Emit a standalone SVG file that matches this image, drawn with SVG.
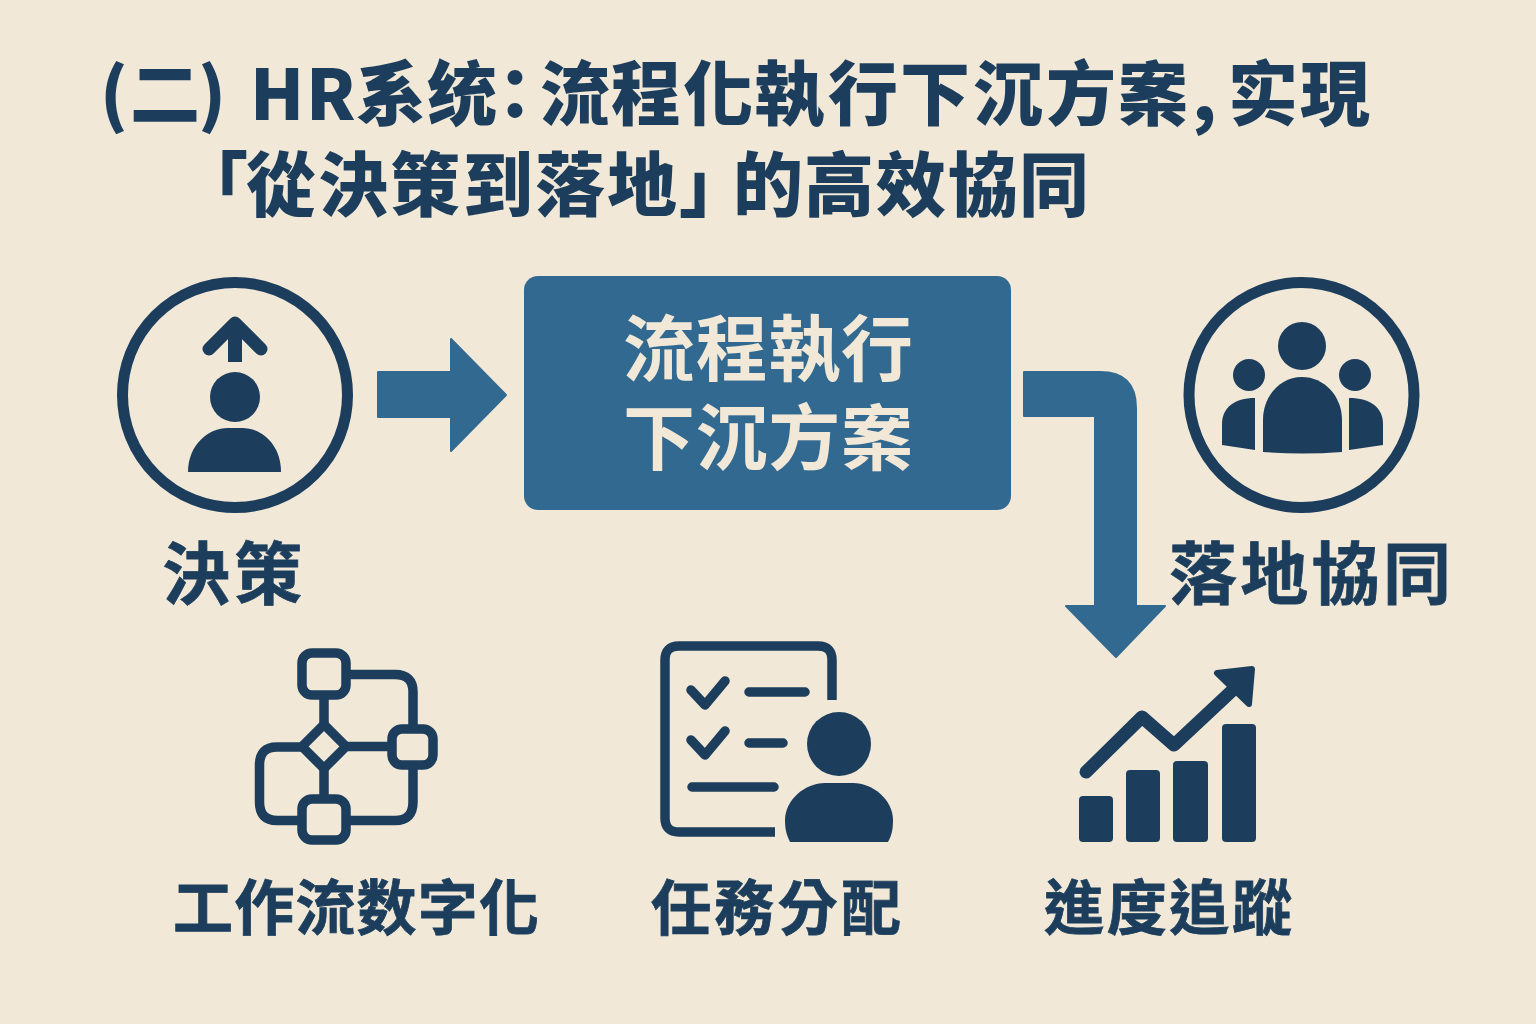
<svg xmlns="http://www.w3.org/2000/svg" width="1536" height="1024" viewBox="0 0 1536 1024">
<style>
text{font-family:"Noto Sans CJK TC","Noto Sans CJK SC","Noto Sans",sans-serif;font-weight:700;fill:#1c3e5c;stroke:#1c3e5c;stroke-width:.8}
.t{font-size:70px;font-weight:900;stroke-width:0}
.l{font-size:68px}
.s{font-size:60px}
.b{font-size:72px;fill:#f1e8d7;stroke:none;font-weight:700}
.ln{fill:none;stroke:#1c3e5c;stroke-width:9.5;stroke-linejoin:round;stroke-linecap:round}
.f{fill:#1c3e5c}
.a{fill:#326990;stroke:#326990;stroke-width:2;stroke-linejoin:round}
.c{fill:none;stroke:#1c3e5c;stroke-width:11}
</style>
<rect width="1536" height="1024" fill="#f1e8d8"/>
<g id="title">
<text class="t" y="120" x="100 130 198 220 250 306 356 427 480 540 611 683 754 828 900 973 1046 1118 1192 1228 1300">(二) HR系统：流程化執行下沉方案,实現</text>
<text class="t" y="211" x="178 246 318 390 463 535 607 679 733 804 876 948 1019">「從決策到落地」的高效協同</text>
</g>
<g id="connectors">
<path class="a" d="M378 372H451V339L506 395L451 451V417H378Z"/>
<path class="a" d="M1024 372H1100Q1136 372 1136 408V606H1165L1116 657L1066 606H1095V416H1024Z"/>
</g>
<g id="decision">
<circle cx="235" cy="395" r="112.5" class="c"/>
<path class="ln" d="M209 349L235 323L261 349" style="stroke-width:13"/>
<rect class="f" x="228" y="330" width="14" height="32"/>
<circle class="f" cx="235" cy="397" r="25"/>
<path class="f" d="M188 472C188 445 208 428 228 428H242C262 428 281 445 281 472Z"/>
<text class="l" x="232" y="599" text-anchor="middle" textLength="140">決策</text>
</g>
<g id="process">
<rect x="524" y="276" width="487" height="234" rx="14" fill="#326990"/>
<text class="b" x="768" y="375" text-anchor="middle" textLength="290">流程執行</text>
<text class="b" x="768" y="464" text-anchor="middle" textLength="290">下沉方案</text>
</g>
<g id="landing">
<circle cx="1301.5" cy="395" r="112.5" class="c"/>
<circle class="f" cx="1302" cy="346" r="24"/>
<circle class="f" cx="1249" cy="375" r="16"/>
<circle class="f" cx="1355" cy="375" r="16"/>
<path class="f" d="M1263 452V420C1263 396 1280 377 1302 377C1324 377 1342 396 1342 420V452Q1302 455 1263 452Z"/>
<path class="f" d="M1222 445V424C1222 408 1234 398 1255 398V450Z"/>
<path class="f" d="M1383 445V424C1383 408 1371 398 1349 398V450Z"/>
<text class="l" x="1310" y="599" text-anchor="middle" textLength="282">落地協同</text>
</g>
<g id="workflow">
<rect x="302" y="653" width="44" height="42" rx="10" class="ln"/>
<rect x="302" y="799" width="44" height="41" rx="10" class="ln"/>
<rect x="392" y="729" width="41" height="36" rx="10" class="ln"/>
<path class="ln" d="M324 724.500L346 746.500L324 768.500L302 746.500Z"/>
<path class="ln" d="M324 695V724M324 769V799M346 746.500H392M346 674.500H395Q413 674.500 413 692V729M413 765V802Q413 820.500 395 820.500H346M302 747H277Q259.500 747 259.500 765V802Q259.500 820.500 277 820.500H302" style="stroke-linecap:butt"/>
<text class="s" x="356" y="930" text-anchor="middle" textLength="366">工作流数字化</text>
</g>
<g id="tasks">
<path class="ln" d="M832 700V660Q832 646 818 646H679Q665 646 665 660V818Q665 832 679 832H775" style="stroke-linecap:butt"/>
<path class="ln" d="M691 690L705 705L725 681M691 740L705 755L725 731M749 692H805M749 743H783M692 787H774"/>
<ellipse class="f" cx="839" cy="744" rx="32" ry="32"/>
<path class="f" d="M790 842C786 834 785 828 785 820C785 800 805 783 825 783H853C873 783 893 800 893 820C893 828 892 835 888 842Z"/>
<text class="s" x="776" y="930" text-anchor="middle" textLength="250">任務分配</text>
</g>
<g id="progress">
<path d="M1086 772L1142 717L1174 745L1236 687" fill="none" stroke="#1c3e5c" stroke-width="13" stroke-linejoin="round" stroke-linecap="round"/>
<path class="f" d="M1217 673L1252 669L1249 704Z" stroke="#1c3e5c" stroke-width="6" stroke-linejoin="round"/>
<rect class="f" x="1079" y="796" width="34" height="46" rx="4"/>
<rect class="f" x="1126" y="770" width="34" height="72" rx="4"/>
<rect class="f" x="1173" y="761" width="35" height="81" rx="4"/>
<rect class="f" x="1222" y="724" width="34" height="118" rx="4"/>
<text class="s" x="1168" y="930" text-anchor="middle" textLength="248">進度追蹤</text>
</g>
</svg>
